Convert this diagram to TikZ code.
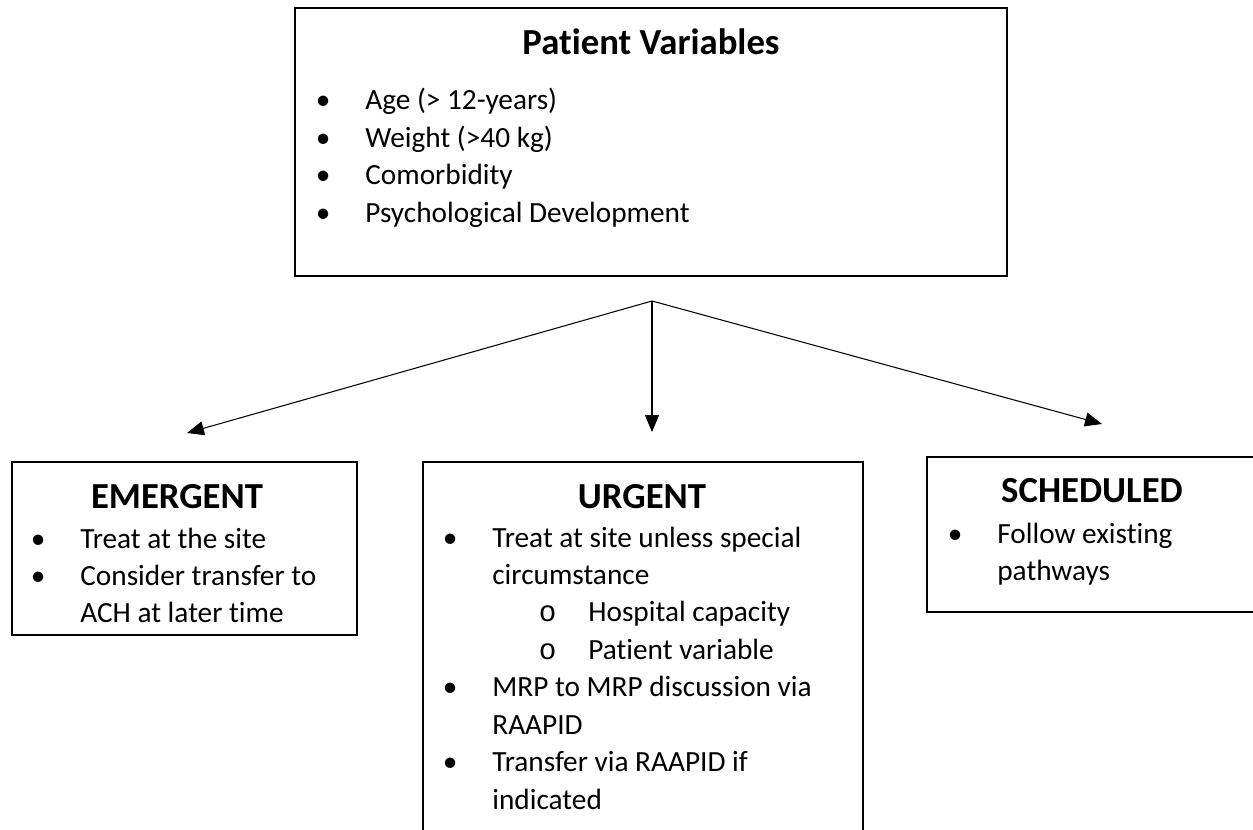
\documentclass[tikz,border=0pt]{standalone}
\usepackage{fontspec}
\setmainfont{Carlito}[RawFeature={-liga}]
\newfontfamily\monof{Liberation Mono}
\usetikzlibrary{fit,arrows.meta}
\newcommand{\bul}{\makebox[0pt][r]{\textbullet\hspace{0.7cm}}}
\newcommand{\subbul}{\hspace{1.92cm}\makebox[0pt][r]{{\monof o}\hspace{0.64cm}}}
\begin{document}
\begin{tikzpicture}[x=0.02cm,y=-0.02cm]

	\tikzset{box/.style={draw,line width=0.04cm,inner sep=0pt},
		title/.style={anchor=base,inner sep=0pt,font=\fontsize{20.9}{25}\selectfont\bfseries},
		items/.style={anchor=base west,inner sep=0pt,font=\fontsize{16.67}{21.34}\selectfont},
		arr/.style={line width=0.6pt,-{Triangle[length=0.34cm,width=0.28cm]}}}
	\useasboundingbox (0,0) rectangle (1253,830);
	\clip (0,0) rectangle (1253,830);

	% patient variables
	\node[box,fit={(295,8) (1007,276)}] (pv) {};
	\node[title] (pvT) at (651,55) {Patient Variables};
	\node[items] (pvL) at (365,110) {\begin{tabular}[t]{@{}l@{}}
		\bul Age (> 12-years)\\
		\bul Weight (>40 kg)\\
		\bul Comorbidity\\
		\bul Psychological Development
	\end{tabular}};

	% emergent
	\node[box,fit={(12,462) (357,635)}] (em) {};
	\node[title] (emT) at (177,508) {EMERGENT};
	\node[items] (emL) at (80,548) {\begin{tabular}[t]{@{}l@{}}
		\bul Treat at the site\\
		\bul Consider transfer to\\
		ACH at later time
	\end{tabular}};

	% urgent
	\node[box,fit={(423,462) (863,850)}] (ur) {};
	\node[title] (urT) at (642,508) {URGENT};
	\node[items] (urL) at (492,547) {\begin{tabular}[t]{@{}l@{}}
		\bul Treat at site unless special\\
		circumstance\\
		\subbul Hospital capacity\\
		\subbul Patient variable\\
		\bul MRP to MRP discussion via\\
		RAAPID\\
		\bul Transfer via RAAPID if\\
		indicated
	\end{tabular}};

	% scheduled
	\node[box,fit={(927,457) (1262,612)}] (sc) {};
	\node[title] (scT) at (1092,502) {SCHEDULED};
	\node[items] (scL) at (997,543) {\begin{tabular}[t]{@{}l@{}}
		\bul Follow existing\\
		pathways
	\end{tabular}};

	% arrows
	\coordinate (fork) at (652,301);
	\coordinate (toE) at (187,433);
	\coordinate (toU) at (652,432);
	\coordinate (toS) at (1102,424);
	\draw[arr] (fork) -- (toE);
	\draw[arr] (fork) -- (toU);
	\draw[arr] (fork) -- (toS);

\end{tikzpicture}
\end{document}
